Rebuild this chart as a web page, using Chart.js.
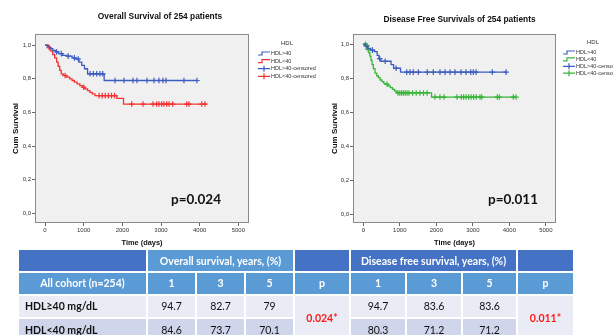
<!DOCTYPE html>
<html>
<head>
<meta charset="utf-8">
<script src="https://cdn.jsdelivr.net/npm/chart.js@4.4.0/dist/chart.umd.min.js"></script>
<style>
  body { margin: 0; width: 613px; height: 335px; overflow: hidden; background: #fff; position: relative; font-family: Lato, sans-serif; }
  canvas { position: absolute; top: 0; }
  #os { left: 0; }
  #dfs { left: 306px; }
  table { position: absolute; left: 17px; top: 248px; border-collapse: separate; border-spacing: 2px; table-layout: fixed; }
  td { padding: 0; text-align: center; font-size: 10.5px; color: #111; overflow: hidden; white-space: nowrap; }
  tr.h1 td { background: #4472c4; height: 21px; color: #fff; font-weight: bold; }
  tr.h1 td.light { background: #5b9bd5; }
  tr.h2 td { background: #5b9bd5; height: 20.5px; color: #fff; font-weight: bold; }
  tr.r1 td { background: #e9ebf5; height: 21.5px; }
  tr.r2 td { background: #cfd5ea; height: 21.5px; }
  td.lab { text-align: left; padding-left: 6px; font-weight: bold; }
  td.pv { background: #e9ebf5 !important; color: #ff1a1a; font-weight: bold; }
</style>
</head>
<body>
<canvas id="os" width="320" height="250"></canvas>
<canvas id="dfs" width="307" height="250"></canvas>
<table id="tbl">
  <colgroup>
    <col style="width:127px"><col style="width:47px"><col style="width:47px"><col style="width:47px">
    <col style="width:54px"><col style="width:54px"><col style="width:54px"><col style="width:53px"><col style="width:55px">
  </colgroup>
</table>
<script>
// Overall survival, HDL >= 40 / < 40 (days, cumulative survival at each step)
const osHighDays = [0, 60, 130, 200, 280, 350, 450, 560, 700, 800, 880, 950, 1020, 1100, 1530, 3930];
const osHighSurv = [1.0, 0.99, 0.98, 0.97, 0.96, 0.95, 0.94, 0.935, 0.925, 0.918, 0.90, 0.88, 0.86, 0.83, 0.79, 0.79];
const osHighCens = [300, 420, 600, 760, 860, 1164, 1250, 1337, 1422, 1492, 1810, 2043, 2276, 2379, 2637, 2818, 2948, 3051, 3129, 3594, 3930];

const osLowDays = [0, 90, 150, 200, 250, 300, 340, 380, 420, 470, 560, 640, 700, 760, 830, 900, 960, 1030, 1100, 1160, 1220, 1290, 1860, 2030, 4180];
const osLowSurv = [1.0, 0.985, 0.965, 0.945, 0.925, 0.9, 0.875, 0.85, 0.83, 0.82, 0.81, 0.80, 0.79, 0.78, 0.77, 0.76, 0.75, 0.74, 0.73, 0.72, 0.71, 0.70, 0.684, 0.65, 0.65];
const osLowCens = [110, 520, 1000, 1400, 1480, 1560, 1640, 1720, 1800, 2242, 2534, 2793, 2888, 2948, 3017, 3077, 3147, 3207, 3302, 3664, 3724, 4052, 4137];

// Disease free survival
const dfsHighDays = [0, 60, 120, 200, 300, 380, 430, 480, 760, 830, 1020, 3930];
const dfsHighSurv = [1.0, 0.99, 0.975, 0.965, 0.957, 0.935, 0.915, 0.9, 0.88, 0.859, 0.836, 0.836];
const dfsHighCens = [80, 250, 450, 600, 900, 1189, 1279, 1370, 1507, 1753, 1918, 2101, 2238, 2375, 2512, 2677, 2814, 2942, 3014, 3088, 3534, 3910];

const dfsLowDays = [0, 90, 120, 150, 180, 210, 240, 275, 320, 370, 410, 460, 510, 560, 600, 680, 740, 800, 860, 920, 1870, 4180];
const dfsLowSurv = [1.0, 0.99, 0.97, 0.95, 0.93, 0.905, 0.88, 0.857, 0.83, 0.815, 0.804, 0.79, 0.78, 0.77, 0.765, 0.755, 0.745, 0.735, 0.725, 0.714, 0.69, 0.69];
const dfsLowCens = [60, 100, 130, 650, 950, 1000, 1050, 1100, 1150, 1200, 1250, 1350, 1450, 1550, 1650, 1750, 1964, 2101, 2211, 2567, 2685, 2748, 2814, 2885, 2951, 3022, 3096, 3197, 3244, 3671, 3726, 4110, 4183];

const xTicks = [0, 1000, 2000, 3000, 4000, 5000];
const yTicks = [0, 0.2, 0.4, 0.6, 0.8, 1.0];
const legendLabels = ['HDL>40', 'HDL<40', 'HDL>40-censored', 'HDL<40-censored'];

// table
const years = ['1', '3', '5'];
const groups = ['HDL≥40 mg/dL', 'HDL<40 mg/dL'];
const osRates = [['94.7', '82.7', '79'], ['84.6', '73.7', '70.1']];
const dfsRates = [['94.7', '83.6', '83.6'], ['80.3', '71.2', '71.2']];
const pValues = ['0.024*', '0.011*'];

const BLUE = '#3c5cc0';
const RED = '#f43232';
const GREEN = '#38b538';

Chart.defaults.font.family = '"Liberation Sans", Arial, sans-serif';
Chart.defaults.color = '#333';

function steps(days, surv) {
  return days.map((d, i) => ({ x: d, y: surv[i] }));
}
// value of the step curve at a censoring time
function censPts(cens, days, surv) {
  return cens.map(t => {
    let s = surv[0];
    for (let i = 0; i < days.length; i++) if (days[i] <= t) s = surv[i];
    return { x: t, y: s };
  });
}

const kmFrame = {
  id: 'kmFrame',
  beforeDraw(chart) {
    const { ctx, chartArea: a } = chart;
    ctx.save();
    ctx.fillStyle = '#f0f0f0';
    ctx.fillRect(a.left, a.top, a.right - a.left, a.bottom - a.top);
    ctx.restore();
  },
  afterDraw(chart, args, o) {
    const { ctx, chartArea: a } = chart;
    ctx.save();
    ctx.strokeStyle = '#8a8a8a';
    ctx.lineWidth = 1;
    ctx.strokeRect(a.left + 0.5, a.top + 0.5, a.right - a.left - 1, a.bottom - a.top - 1);

    // legend
    ctx.fillStyle = '#333';
    ctx.font = '6px "Liberation Sans", Arial, sans-serif';
    ctx.textAlign = 'center';
    ctx.textBaseline = 'middle';
    ctx.fillText('HDL', o.legX + o.legTitleDx, o.legY - 10);
    ctx.textAlign = 'left';
    ctx.font = '5.5px "Liberation Sans", Arial, sans-serif';
    chart.data.datasets.forEach((ds, i) => {
      const y = o.legY + i * o.legDy;
      const x = o.legX;
      ctx.strokeStyle = ds.borderColor;
      ctx.lineWidth = 1.2;
      ctx.beginPath();
      if (ds.showLine === false) {
        ctx.moveTo(x, y); ctx.lineTo(x + 12, y);
        ctx.moveTo(x + 6, y - 3); ctx.lineTo(x + 6, y + 3);
      } else {
        ctx.moveTo(x, y + 1.5); ctx.lineTo(x + 4, y + 1.5);
        ctx.lineTo(x + 4, y - 1.5); ctx.lineTo(x + 12, y - 1.5);
      }
      ctx.stroke();
      ctx.fillStyle = '#333';
      ctx.fillText(ds.label, x + 13, y);
    });

    // p value
    const xs = chart.scales.x, ys = chart.scales.y;
    ctx.fillStyle = '#111';
    ctx.font = 'bold 13.5px Lato, sans-serif';
    ctx.textAlign = 'center';
    ctx.fillText(o.pText, xs.getPixelForValue(o.pAt[0]), ys.getPixelForValue(o.pAt[1]));
    ctx.restore();
  }
};

function makeKm(id, c) {
  const datasets = [
    { label: legendLabels[0], data: steps(c.hiDays, c.hiSurv), borderColor: BLUE, backgroundColor: BLUE, stepped: true, pointRadius: 0, borderWidth: 1.3 },
    { label: legendLabels[1], data: steps(c.loDays, c.loSurv), borderColor: c.loColor, backgroundColor: c.loColor, stepped: true, pointRadius: 0, borderWidth: 1.3 },
    { label: legendLabels[2], data: censPts(c.hiCens, c.hiDays, c.hiSurv), borderColor: BLUE, showLine: false, pointStyle: 'cross', pointRadius: 2.8, borderWidth: 1.2 },
    { label: legendLabels[3], data: censPts(c.loCens, c.loDays, c.loSurv), borderColor: c.loColor, showLine: false, pointStyle: 'cross', pointRadius: 2.8, borderWidth: 1.2 }
  ];
  return new Chart(document.getElementById(id), {
    type: 'line',
    data: { datasets },
    plugins: [kmFrame],
    options: {
      responsive: false,
      animation: false,
      layout: { padding: 0 },
      plugins: {
        legend: { display: false },
        tooltip: { enabled: false },
        title: { display: true, text: c.title, font: { size: 8.4, weight: 'bold' }, color: '#111', padding: { top: c.titleTop, bottom: 34 - c.titleTop - 10.1 } },
        kmFrame: c.frame
      },
      scales: {
        x: {
          type: 'linear', min: c.xMin, max: c.xMax,
          afterBuildTicks: s => { s.ticks = xTicks.map(v => ({ value: v })); },
          afterFit: s => { s.height = 27; },
          ticks: { font: { size: 6 }, color: '#333', padding: 1, maxRotation: 0, callback: v => String(v) },
          grid: { drawOnChartArea: false, tickLength: 3, color: '#666' },
          border: { display: false },
          title: { display: true, text: 'Time (days)', font: { size: 7.4, weight: 'bold' }, color: '#111', padding: { top: 0, bottom: 2.4 } }
        },
        y: {
          min: c.yMin, max: c.yMax,
          afterBuildTicks: s => { s.ticks = yTicks.map(v => ({ value: v })); },
          afterFit: s => { s.width = c.yWidth; },
          ticks: { font: { size: 6 }, color: '#333', padding: 1, callback: v => v.toFixed(1).replace('.', ',') },
          grid: { drawOnChartArea: false, tickLength: 3, color: '#666' },
          border: { display: false },
          title: { display: true, text: 'Cum Survival', font: { size: 8, weight: 'bold' }, color: '#111', padding: { top: c.yTitlePad, bottom: 0 } }
        },
        // empty right-hand band that holds the legend space
        side: {
          position: 'right', min: 0, max: 1,
          afterFit: s => { s.width = c.padRight; },
          ticks: { display: false },
          grid: { display: false },
          border: { display: false }
        }
      }
    }
  });
}

makeKm('os', {
  title: 'Overall Survival of 254 patients', titleTop: 12,
  hiDays: osHighDays, hiSurv: osHighSurv, hiCens: osHighCens,
  loDays: osLowDays, loSurv: osLowSurv, loCens: osLowCens, loColor: RED,
  xMin: -259, xMax: 5276, yMin: -0.058, yMax: 1.067,
  yWidth: 35, yTitlePad: 11, padRight: 71,
  frame: { legX: 258, legY: 53.5, legDy: 7.6, legTitleDx: 29, pText: 'p=0.024', pAt: [3905, 0.079] }
});

makeKm('dfs', {
  title: 'Disease Free Survivals of 254 patients', titleTop: 15,
  hiDays: dfsHighDays, hiSurv: dfsHighSurv, hiCens: dfsHighCens,
  loDays: dfsLowDays, loSurv: dfsLowSurv, loCens: dfsLowCens, loColor: GREEN,
  xMin: -282, xMax: 5279, yMin: -0.049, yMax: 1.060,
  yWidth: 47, yTitlePad: 24, padRight: 57,
  frame: { legX: 257, legY: 52.5, legDy: 6.9, legTitleDx: 30, pText: 'p=0.011', pAt: [4101, 0.086] }
});

// table
const tbl = document.getElementById('tbl');
function row(cls, cells) {
  const tr = document.createElement('tr');
  tr.className = cls;
  cells.forEach(c => {
    const td = document.createElement('td');
    td.textContent = c.t;
    if (c.span) td.colSpan = c.span;
    if (c.rows) td.rowSpan = c.rows;
    if (c.cls) td.className = c.cls;
    tr.appendChild(td);
  });
  tbl.appendChild(tr);
}
row('h1', [{ t: '' }, { t: 'Overall survival, years, (%)', span: 3, cls: 'light' }, { t: '' }, { t: 'Disease free survival, years, (%)', span: 3 }, { t: '' }]);
row('h2', [{ t: 'All cohort (n=254)' }, ...years.map(t => ({ t })), { t: 'p' }, ...years.map(t => ({ t })), { t: 'p' }]);
row('r1', [{ t: groups[0], cls: 'lab' }, ...osRates[0].map(t => ({ t })), { t: pValues[0], rows: 2, cls: 'pv' }, ...dfsRates[0].map(t => ({ t })), { t: pValues[1], rows: 2, cls: 'pv' }]);
row('r2', [{ t: groups[1], cls: 'lab' }, ...osRates[1].map(t => ({ t })), ...dfsRates[1].map(t => ({ t }))]);
</script>
</body>
</html>
